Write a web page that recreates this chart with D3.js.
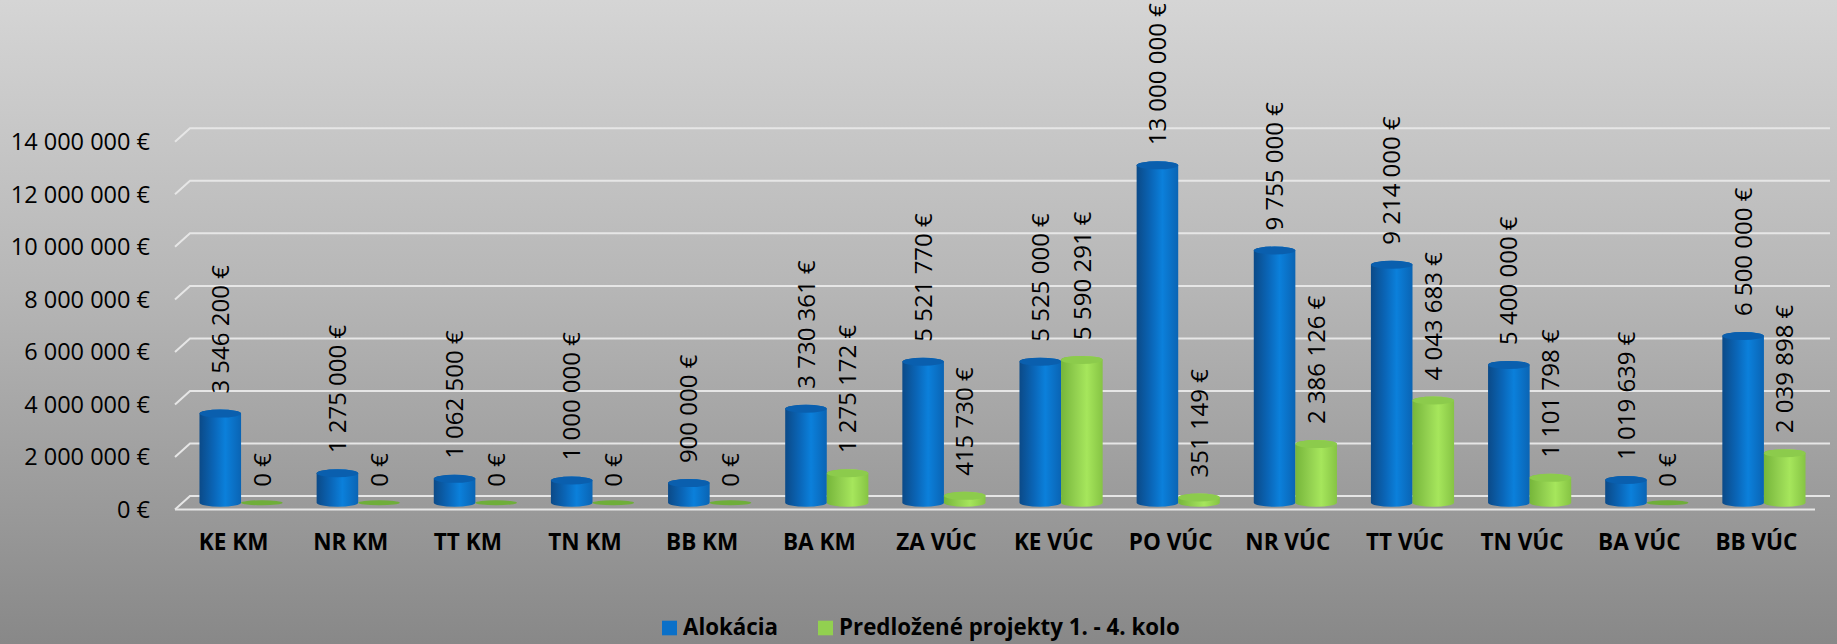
<!DOCTYPE html>
<html>
<head>
<meta charset="utf-8">
<script src="https://cdn.jsdelivr.net/npm/d3@7"></script>
<style>
    body { margin: 0; overflow: hidden; }
    svg { display: block; }
</style>
</head>
<body>
<svg id="chart" width="1837" height="644"></svg>
<script>
const categories = ['KE KM', 'NR KM', 'TT KM', 'TN KM', 'BB KM', 'BA KM', 'ZA VÚC', 'KE VÚC', 'PO VÚC', 'NR VÚC', 'TT VÚC', 'TN VÚC', 'BA VÚC', 'BB VÚC'];
const alokacia = [3546200, 1275000, 1062500, 1000000, 900000, 3730361, 5521770, 5525000, 13000000, 9755000, 9214000, 5400000, 1019639, 6500000];
const predlozene = [0, 0, 0, 0, 0, 1275172, 415730, 5590291, 351149, 2386126, 4043683, 1101798, 0, 2039898];
const series_names = ['Alokácia', 'Predložené projekty 1. - 4. kolo'];
const y_ticks = [0, 2000000, 4000000, 6000000, 8000000, 10000000, 12000000, 14000000];

const width = 1837, height = 644;
const front_left = 175, front_right = 1815;
const depth_x = 15, depth_y = 13.5;
const back_zero = 496, back_top = 128.3;
const ry = 4;
const font = "'Open Sans', sans-serif";

const locale = d3.formatLocale({decimal: ',', thousands: ' ', grouping: [3], currency: ['', ' €']});
const euro = locale.format('$,.0f');

const svg = d3.select('#chart');
const defs = svg.append('defs');

// background
const bg = defs.append('linearGradient').attr('id', 'bg').attr('x1', 0).attr('y1', 0).attr('x2', 0).attr('y2', 1);
bg.append('stop').attr('offset', 0).attr('stop-color', '#d5d5d5');
bg.append('stop').attr('offset', 0.45).attr('stop-color', '#b6b6b6');
bg.append('stop').attr('offset', 1).attr('stop-color', '#888888');
svg.append('rect').attr('width', width).attr('height', height).attr('fill', 'url(#bg)');

function body_gradient(id, stops) {
    const g = defs.append('linearGradient').attr('id', id).attr('x1', 0).attr('y1', 0).attr('x2', 1).attr('y2', 0);
    stops.forEach(([o, c]) => g.append('stop').attr('offset', o).attr('stop-color', c));
}
body_gradient('blue', [[0, '#0b4a88'], [0.35, '#0a66b8'], [0.62, '#0b80db'], [1, '#0a64b4']]);
body_gradient('green', [[0, '#76b63a'], [0.35, '#92d050'], [0.62, '#a6e65c'], [1, '#86c444']]);
const top_color = {blue: '#0a5fae', green: '#8ccb4c'};

const y = d3.scaleLinear().domain([0, 14000000]).range([back_zero, back_top]);
const x = d3.scaleBand().domain(categories).range([front_left, front_right]).paddingInner(0.29).paddingOuter(0.145);
const x_inner = d3.scaleBand().domain([0, 1]).range([0, x.bandwidth()]);

// gridlines on back wall, with the short side-wall stroke
const grid = svg.append('g');
y_ticks.forEach(t => {
    const yb = y(t);
    grid.append('path')
        .attr('d', `M${front_left},${yb + depth_y}L${front_left + depth_x},${yb}L${front_right + depth_x},${yb}`)
        .attr('fill', 'none').attr('stroke', '#e6e6e6').attr('stroke-width', 2);
});
// floor front edge
grid.append('line')
    .attr('x1', front_left).attr('x2', front_right)
    .attr('y1', back_zero + depth_y).attr('y2', back_zero + depth_y)
    .attr('stroke', '#e6e6e6').attr('stroke-width', 2);

// y axis labels
svg.append('g').selectAll('text').data(y_ticks).join('text')
    .attr('x', 150).attr('y', d => y(d) + depth_y)
    .attr('dy', '0.36em')
    .attr('text-anchor', 'end')
    .attr('font-family', font).attr('font-size', 23.5).attr('fill', '#000')
    .text(d => euro(d));

// bars
const mid_zero = back_zero + depth_y / 2;
const bar_y = v => y(v) + depth_y / 2;
const bars = [];
categories.forEach((c, i) => {
    bars.push({cat: c, s: 0, v: alokacia[i], color: 'blue'});
    bars.push({cat: c, s: 1, v: predlozene[i], color: 'green'});
});

function cylinder(cx, w, yt, yb) {
    const r = w / 2;
    return `M${cx - r},${yt}L${cx - r},${yb}A${r},${ry} 0 0 0 ${cx + r},${yb}L${cx + r},${yt}A${r},${ry} 0 0 0 ${cx - r},${yt}Z`;
}

const bar_g = svg.append('g');
bars.forEach(b => {
    const w = x_inner.bandwidth();
    const cx = x(b.cat) + x_inner(b.s) + w / 2 + depth_x / 2;
    const yt = bar_y(b.v) + ry, yb = mid_zero;
    const g = bar_g.append('g');
    if (b.v > 0) {
        g.append('path').attr('d', cylinder(cx, w, yt, yb)).attr('fill', `url(#${b.color})`);
    }
    g.append('ellipse').attr('cx', cx).attr('cy', b.v > 0 ? yt : yb)
        .attr('rx', w / 2).attr('ry', b.v > 0 ? ry : 2.5)
        .attr('fill', b.v > 0 ? top_color[b.color] : '#6fae3a');
    b.cx = cx;
});

// value labels
svg.append('g').selectAll('text').data(bars).join('text')
    .attr('transform', d => `translate(${d.cx},${bar_y(d.v) - 16}) rotate(-90)`)
    .attr('dy', '0.36em')
    .attr('font-family', font).attr('font-size', 24).attr('fill', '#000')
    .text(d => euro(d.v));

// category labels
svg.append('g').selectAll('text').data(categories).join('text')
    .attr('x', d => x(d) + x.bandwidth() / 2)
    .attr('y', 550)
    .attr('text-anchor', 'middle')
    .attr('font-family', font).attr('font-weight', 'bold').attr('font-size', 22.5).attr('fill', '#000')
    .text(d => d);

// legend
const legend = svg.append('g');
const legend_items = [{name: series_names[0], color: '#0a70c8', x: 662}, {name: series_names[1], color: '#92d050', x: 818}];
legend_items.forEach(l => {
    legend.append('rect').attr('x', l.x).attr('y', 620.7).attr('width', 15).attr('height', 14.6).attr('fill', l.color);
    legend.append('text').attr('x', l.x + 21).attr('y', 635)
        .attr('font-family', font).attr('font-weight', 'bold').attr('font-size', 22.3).attr('fill', '#000')
        .text(l.name);
});
</script>
</body>
</html>
